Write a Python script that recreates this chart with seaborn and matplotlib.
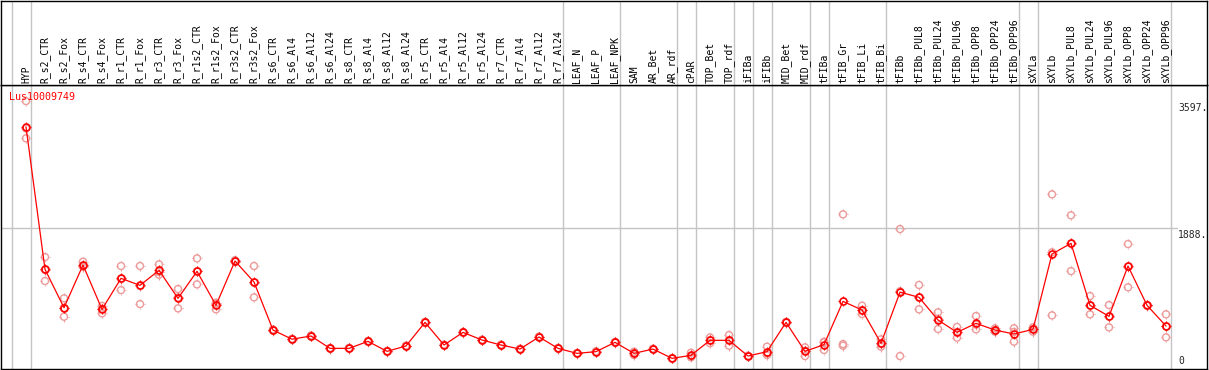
import numpy as np
import pandas as pd
import matplotlib
matplotlib.use("Agg")
import matplotlib.pyplot as plt
from matplotlib.path import Path
import seaborn as sns

gene = "Lus10009749"

samples = ["HYP", "R_s2_CTR", "R_s2_Fox", "R_s4_CTR", "R_s4_Fox", "R_r1_CTR", "R_r1_Fox",
           "R_r3_CTR", "R_r3_Fox", "R_r1s2_CTR", "R_r1s2_Fox", "R_r3s2_CTR", "R_r3s2_Fox",
           "R_s6_CTR", "R_s6_Al4", "R_s6_Al12", "R_s6_Al24", "R_s8_CTR", "R_s8_Al4",
           "R_s8_Al12", "R_s8_Al24", "R_r5_CTR", "R_r5_Al4", "R_r5_Al12", "R_r5_Al24",
           "R_r7_CTR", "R_r7_Al4", "R_r7_Al12", "R_r7_Al24", "LEAF_N", "LEAF_P", "LEAF_NPK",
           "SAM", "AR_Bet", "AR_rdf", "cPAR", "TOP_Bet", "TOP_rdf", "iFIBa", "iFIBb",
           "MID_Bet", "MID_rdf", "tFIBa", "tFIB_Gr", "tFIB_Li", "tFIB_Bi", "tFIBb",
           "tFIBb_PUL8", "tFIBb_PUL24", "tFIBb_PUL96", "tFIBb_OPP8", "tFIBb_OPP24",
           "tFIBb_OPP96", "sXYLa", "sXYLb", "sXYLb_PUL8", "sXYLb_PUL24", "sXYLb_PUL96",
           "sXYLb_OPP8", "sXYLb_OPP24", "sXYLb_OPP96"]

means = [3252, 1338, 823, 1396, 801, 1217, 1123, 1325, 949, 1311, 855, 1450, 1168,
         523, 400, 443, 277, 277, 371, 237, 309, 626, 322, 492, 389, 322, 268, 430, 277,
         210, 233, 358, 210, 268, 143, 183, 385, 385, 174, 233, 626, 237, 327, 908, 792,
         345, 1032, 962, 658, 492, 613, 523, 470, 532, 1544, 1687, 855, 707, 1383, 855, 577]

replicates = [[3597, 3097, 3230], [1503, 1181, 1330], [949, 702, 820], [1441, 1373, 1380],
              [846, 747, 810], [1383, 1060, 1210], [1383, 872, 1114], [1405, 1266, 1305],
              [1074, 814, 960], [1485, 1136, 1312], [890, 801, 874], [1460, 1440, 1450],
              [1383, 962, 1160], [530, 515, 524], [405, 395, 400], [450, 436, 443],
              [282, 272, 277], [282, 272, 277], [378, 364, 371], [242, 232, 237],
              [314, 304, 309], [632, 620, 626], [328, 316, 322], [498, 486, 492],
              [394, 384, 389], [328, 316, 322], [273, 263, 268], [436, 424, 430],
              [282, 272, 277], [215, 205, 210], [238, 228, 233], [364, 352, 358],
              [188, 233, 210], [270, 262, 272], [140, 146, 143], [219, 157, 173],
              [424, 345, 386], [456, 313, 386], [176, 170, 176], [300, 188, 211],
              [630, 620, 628], [291, 174, 246], [367, 255, 359], [2076, 313, 335],
              [850, 738, 788], [398, 300, 337], [1879, 174, 1043], [1128, 801, 957],
              [761, 537, 676], [564, 421, 491], [711, 532, 596], [546, 501, 522],
              [546, 367, 497], [559, 501, 536], [2345, 720, 1567], [2063, 1315, 1683],
              [980, 734, 851], [859, 559, 703], [1678, 1097, 1374], [860, 850, 855],
              [734, 425, 572]]

# index of last sample in each group (gray separators drawn after these)
group_ends = [-1, 0, 28, 31, 34, 35, 37, 38, 39, 41, 42, 45, 52, 53, 60]
y_labels = ["3597.", "1888.", "0"]
y_marks = [3597, 1888, 0]

red = "#ff0000"
pink = "#ec9a9a"
grid = "#c4c4c4"
mono = "DejaVu Sans Mono"

x = np.arange(len(samples))
df_mean = pd.DataFrame({"x": x, "value": means})
df_rep = pd.DataFrame([(i, v) for i, r in enumerate(replicates) for v in r],
                      columns=["x", "value"])

# four little ticks sitting just outside the circle marker
r_in, r_out = 1.0, 1.4
verts, codes = [], []
for dx, dy in [(0, 1), (0, -1), (1, 0), (-1, 0)]:
    verts += [(dx * r_in, dy * r_in), (dx * r_out, dy * r_out)]
    codes += [Path.MOVETO, Path.LINETO]
ticks = Path(verts, codes)

circle_px = 7
circ_pt = circle_px * 72 / 100
tick_pt = circ_pt * r_out

sns.set_style("white")
W, H = 1209, 370
fig = plt.figure(figsize=(W / 100, H / 100), dpi=100)

top_px, split_px, bot_px, left_px, right_px = 1, 85, 369, 1, 1207
ax = fig.add_axes([left_px / W, (H - bot_px) / H, (right_px - left_px) / W, (bot_px - split_px) / H])
hx = fig.add_axes([left_px / W, (H - split_px) / H, (right_px - left_px) / W, (split_px - top_px) / H],
                  sharex=ax)

step = 19
ax.set_xlim((left_px - 26) / step, (right_px - 26) / step)
ax.set_ylim(0, max(max(r) for r in replicates) * 1.06)
hx.set_ylim(0, 1)

for a in (ax, hx):
    a.set_xticks([])
    a.set_yticks([])
    for s in a.spines.values():
        s.set_color("black")
        s.set_linewidth(1)
    for g in group_ends:
        a.axvline(g + 0.24, color=grid, lw=1, zorder=0)

ax.axhline(1888, xmin=0, xmax=(1177 - left_px) / (right_px - left_px), color=grid, lw=1, zorder=0)

# replicates
sns.scatterplot(data=df_rep, x="x", y="value", ax=ax, marker="o", s=circ_pt ** 2,
                color=pink, facecolor="none", edgecolor=pink, linewidth=1, zorder=2, legend=False)
sns.scatterplot(data=df_rep, x="x", y="value", ax=ax, marker=ticks, s=tick_pt ** 2,
                color=pink, facecolor="none", edgecolor=pink, linewidth=0.8, zorder=2, legend=False)
# mean profile
sns.lineplot(data=df_mean, x="x", y="value", ax=ax, color=red, lw=0.9, errorbar=None,
             marker="o", markersize=circ_pt, markerfacecolor="none", markeredgecolor=red,
             markeredgewidth=1.2, zorder=3)
sns.scatterplot(data=df_mean, x="x", y="value", ax=ax, marker=ticks, s=tick_pt ** 2,
                color=red, facecolor="none", edgecolor=red, linewidth=0.8, zorder=3, legend=False)
ax.set_xlabel("")
ax.set_ylabel("")

for i, name in enumerate(samples):
    hx.text(i, 2 / 84, name, rotation=90, ha="center", va="bottom",
            fontsize=7, family=mono, color="black")

lx = (1178 - 26) / step
for lab, v in zip(y_labels, y_marks):
    if v == 0:
        ax.text(lx, v + 40, lab, ha="left", va="bottom", fontsize=7, family=mono)
    else:
        ax.text(lx, v - 20, lab, ha="left", va="top", fontsize=7, family=mono)

ax.text(8 / 1206, 1 - 12 / 284, gene, transform=ax.transAxes, ha="left", va="center",
        fontsize=7.2, family=mono, color=red)

fig.savefig("out.png", dpi=100)
